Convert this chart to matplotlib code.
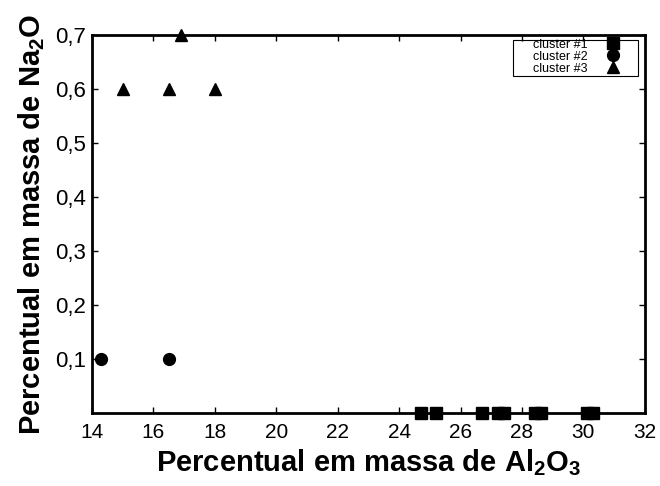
import matplotlib
matplotlib.use('Agg')
import matplotlib.pyplot as plt
from matplotlib.patches import Rectangle

plt.rcParams['font.family'] = ['Liberation Sans', 'DejaVu Sans']
plt.rcParams['mathtext.fontset'] = 'custom'
plt.rcParams['mathtext.rm'] = 'Liberation Sans:bold'
plt.rcParams['mathtext.bf'] = 'Liberation Sans:bold'

# cluster data (Al2O3 %, Na2O %)
c1_al = [24.72, 25.21, 26.71, 27.23, 27.42, 28.42, 28.62, 30.12, 30.32]
c1_na = [0, 0, 0, 0, 0, 0, 0, 0, 0]
c2_al = [14.3, 16.5]
c2_na = [0.1, 0.1]
c3_al = [15.0, 16.5, 18.0, 16.9]
c3_na = [0.6, 0.6, 0.6, 0.7]

xticks = [14, 16, 18, 20, 22, 24, 26, 28, 30, 32]
yticks = [0.1, 0.2, 0.3, 0.4, 0.5, 0.6, 0.7]

fig = plt.figure(figsize=(6.6, 4.86), dpi=100)
ax = fig.add_axes([0.1394, 0.150, 0.8376, 0.778])

ax.plot(c1_al, c1_na, 's', color='black', markersize=8, clip_on=False, label='cluster #1')
ax.plot(c2_al, c2_na, 'o', color='black', markersize=8.5, clip_on=False, label='cluster #2')
ax.plot(c3_al, c3_na, '^', color='black', markersize=9, clip_on=False, label='cluster #3')

ax.set_xlim(14, 32)
ax.set_ylim(0, 0.7)
ax.set_xticks(xticks)
ax.set_xticklabels([str(t) for t in xticks])
ax.set_yticks(yticks)
ax.set_yticklabels([('%.1f' % t).replace('.', ',') for t in yticks])
ax.tick_params(direction='in', length=4, width=1, top=True, right=True)
ax.tick_params(axis='x', labelsize=15, pad=7)
ax.tick_params(axis='y', labelsize=16, pad=4)

for s in ax.spines.values():
    s.set_linewidth(2)

ax.set_xlabel('Percentual em massa de Al$_\\mathbf{2}$O$_\\mathbf{3}$', fontsize=21, fontweight='bold', labelpad=4)
ax.set_ylabel('Percentual em massa de Na$_\\mathbf{2}$O', fontsize=21, fontweight='bold', labelpad=6)

# legend: labels left, markers right, plain box
leg = ax.legend(loc='upper right', fontsize=9, markerfirst=False, frameon=False,
                borderpad=0, borderaxespad=0, labelspacing=0.0,
                handletextpad=1.5, handlelength=1.0,
                bbox_to_anchor=(0.953, 0.99))
ax.add_patch(Rectangle((0.761, 0.892), 0.226, 0.095, transform=ax.transAxes,
                       fill=False, edgecolor='black', linewidth=0.8, zorder=5))

fig.savefig('out.png', dpi=100)
